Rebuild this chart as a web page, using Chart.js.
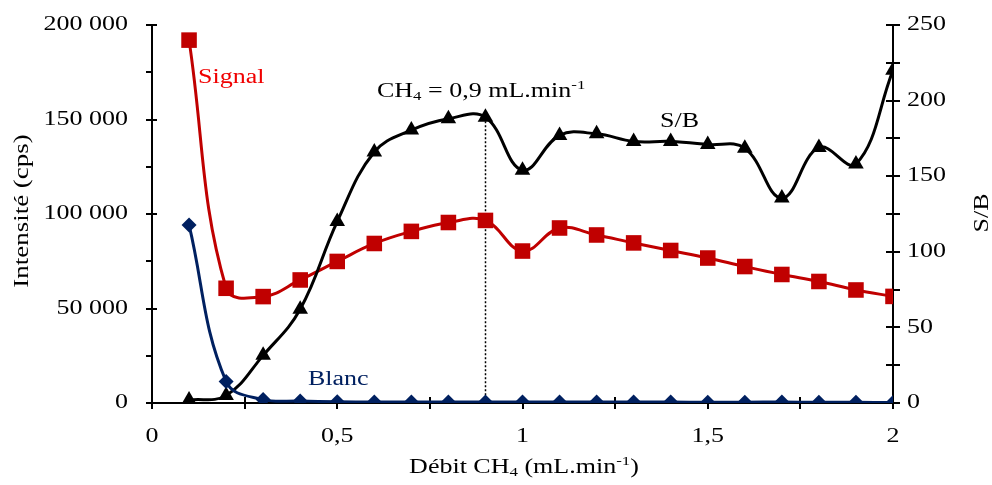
<!DOCTYPE html>
<html><head><meta charset="utf-8">
<script src="https://cdn.jsdelivr.net/npm/chart.js@4/dist/chart.umd.min.js"></script>
<style>html,body{margin:0;padding:0;background:#fff;}#wrap{width:992px;height:485px;}</style>
</head><body><div id="wrap"><canvas id="c" width="992" height="485"></canvas></div>
<script>
const debit  = [0.1,0.2,0.3,0.4,0.5,0.6,0.7,0.8,0.9,1.0,1.1,1.2,1.3,1.4,1.5,1.6,1.7,1.8,1.9,2.0];
const signal = [192000,60700,56300,65100,74900,84400,90800,95500,96600,80400,92600,88900,84700,80700,76700,72200,68000,64300,59800,56400];
const blanc  = [94200,11400,1800,1050,630,510,500,510,510,520,520,500,490,470,450,430,500,380,380,260];
const sb     = [2,5,31.5,62,120,166,180.5,188,189,154,177,178,173,173,171,168.5,135.5,169,158,220];
const xTicks = [0,0.5,1,1.5,2];
const leftTicks = [0,50000,100000,150000,200000];
const rightTicks = [0,50,100,150,200,250];

const FONT = "'Liberation Serif','Times New Roman',serif";
const SX = 1.3;
const fmtFr = v => String(v).replace('.', ',');
const fmtThousands = v => String(v).replace(/\B(?=(\d{3})+(?!\d))/g, ' ');

// segs: [text, mode] mode: 0 normal, 1 sub, 2 sup
function rich(ctx, x, y, segs, opt) {
  const size = opt.size || 20, sx = opt.sx || SX, small = Math.round(size * 0.65);
  ctx.save();
  ctx.translate(x, y);
  if (opt.rot) ctx.rotate(opt.rot);
  ctx.scale(sx, 1);
  ctx.fillStyle = opt.color || '#000';
  ctx.textBaseline = 'middle';
  ctx.textAlign = 'left';
  if (opt.ls) ctx.letterSpacing = opt.ls + 'px';
  let total = 0;
  const widths = segs.map(([t, m]) => { ctx.font = (m ? small : size) + 'px ' + FONT; const w = ctx.measureText(t).width; total += w; return w; });
  let cx = opt.align === 'center' ? -total / 2 : (opt.align === 'right' ? -total : 0);
  segs.forEach(([t, m], i) => {
    ctx.font = (m ? small : size) + 'px ' + FONT;
    const dy = m === 1 ? size * 0.22 : (m === 2 ? -size * 0.3 : 0);
    ctx.fillText(t, cx, dy);
    cx += widths[i];
  });
  ctx.restore();
}

const deco = {
  id: 'deco',
  beforeDatasetsDraw(chart) {
    const { ctx, scales: { x, y, y2 } } = chart;
    ctx.save();
    ctx.strokeStyle = '#000'; ctx.lineWidth = 2;
    const L = x.left, R = x.right, B = y.bottom;
    for (let v = 0; v <= 200000; v += 25000) {
      const py = Math.round(y.getPixelForValue(v));
      const major = v % 50000 === 0;
      ctx.beginPath(); ctx.moveTo(L - 6, py); ctx.lineTo(major ? L + 5 : L, py); ctx.stroke();
    }
    for (let v = 0; v <= 250; v += 25) {
      const py = Math.round(y2.getPixelForValue(v));
      ctx.beginPath(); ctx.moveTo(R - 7, py); ctx.lineTo(R + 7, py); ctx.stroke();
    }
    for (let v = 0; v <= 2.0001; v += 0.25) {
      const px = Math.round(x.getPixelForValue(v));
      ctx.beginPath(); ctx.moveTo(px, B - 6); ctx.lineTo(px, B + 6); ctx.stroke();
    }
    // dotted line at optimum
    const ix = debit.indexOf(0.9);
    const px = Math.round(x.getPixelForValue(debit[ix])) + 0.5;
    ctx.lineWidth = 1.5; ctx.setLineDash([2, 2]);
    ctx.beginPath(); ctx.moveTo(px, y2.getPixelForValue(sb[ix])); ctx.lineTo(px, B); ctx.stroke();
    ctx.restore();
    // tick labels
    leftTicks.forEach(v => rich(ctx, L - 24, y.getPixelForValue(v), [[fmtThousands(v), 0]], { align: 'right' }));
    rightTicks.forEach(v => rich(ctx, R + 14, y2.getPixelForValue(v), [[String(v), 0]], { align: 'left' }));
    xTicks.forEach(v => rich(ctx, x.getPixelForValue(v), B + 34, [[fmtFr(v), 0]], { align: 'center' }));
  },
  afterDraw(chart) {
    const { ctx } = chart;
    // Axis titles
    rich(ctx, 23, 211, [['Intensité (cps)', 0]], { align: 'center', rot: -Math.PI / 2, sx: 1.35 });
    rich(ctx, 983, 213, [['S/B', 0]], { align: 'center', rot: -Math.PI / 2 });
    rich(ctx, 524, 468, [['Débit CH', 0], ['4', 1], [' (mL.min', 0], ['-1', 2], [')', 0]], { align: 'center' });
    // annotations
    rich(ctx, 377, 92, [['CH', 0], ['4', 1], [' = 0,9 mL.min', 0], ['-1', 2]], { align: 'left' });
    rich(ctx, 660, 122, [['S/B', 0]], { align: 'left' });
    rich(ctx, 198, 78, [['Signal', 0]], { align: 'left', color: '#F00000' });
    rich(ctx, 308, 380, [['Blanc', 0]], { align: 'left', color: '#002060' });
  }
};

const pts = arr => debit.map((d, i) => ({ x: d, y: arr[i] }));
const axisCommon = { grid: { display: false, drawTicks: false, tickLength: 0 }, border: { display: true, color: '#000', width: 2 } };

new Chart(document.getElementById('c'), {
  type: 'line',
  data: {
    datasets: [
      { label: 'Blanc', data: pts(blanc), yAxisID: 'y', borderColor: '#002060', backgroundColor: '#002060',
        pointStyle: 'rectRot', pointRadius: 7.5, pointBorderWidth: 0, borderWidth: 3, tension: 0.4, order: 0 },
      { label: 'S/B', data: pts(sb), yAxisID: 'y2', borderColor: '#000', backgroundColor: '#000',
        pointStyle: 'triangle', pointRadius: 9, pointBorderWidth: 0, borderWidth: 3, tension: 0.4, order: 1 },
      { label: 'Signal', data: pts(signal), yAxisID: 'y', borderColor: '#C00000', backgroundColor: '#C00000',
        pointStyle: 'rect', pointRadius: 11, pointBorderWidth: 0, borderWidth: 3, tension: 0.4, order: 2 }
    ]
  },
  options: {
    responsive: false, animation: false,
    layout: { padding: { top: 25, left: 0, right: 0, bottom: 0 } },
    plugins: { legend: { display: false }, tooltip: { enabled: false } },
    scales: {
      x: Object.assign({
        type: 'linear', min: 0, max: 2,
        afterFit: s => { s.height = 82; },
        afterBuildTicks: s => { s.ticks = xTicks.map(v => ({ value: v })); },
        ticks: { display: false }
      }, axisCommon),
      y: Object.assign({
        position: 'left', min: 0, max: 200000,
        afterFit: s => { s.width = 152; },
        afterBuildTicks: s => { s.ticks = leftTicks.map(v => ({ value: v })); },
        ticks: { display: false }
      }, axisCommon),
      y2: Object.assign({
        position: 'right', min: 0, max: 250,
        afterFit: s => { s.width = 99; },
        afterBuildTicks: s => { s.ticks = rightTicks.map(v => ({ value: v })); },
        ticks: { display: false }
      }, axisCommon)
    }
  },
  plugins: [deco]
});
</script></body></html>
